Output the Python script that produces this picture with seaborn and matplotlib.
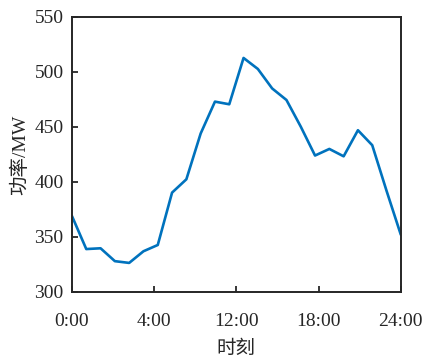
import numpy as np
import pandas as pd
import matplotlib
matplotlib.use("Agg")
import matplotlib.pyplot as plt
import seaborn as sns

# Hourly power over one day (MW)
hours = list(range(24))
power = [369, 339, 339.7, 328, 326.4, 337, 342.7, 390.3, 402.4, 444, 473, 470.6,
         512.7, 502.7, 485, 474.5, 450.3, 424, 430, 423.3, 447, 433.4, 392, 352]
tick_labels = ["0:00", "4:00", "12:00", "18:00", "24:00"]
y_ticks = [300, 350, 400, 450, 500, 550]

sns.set_theme(style="white")
plt.rcParams["font.family"] = ["Liberation Serif", "Noto Sans CJK SC"]

df = pd.DataFrame({"hour": hours, "power": power})

fig = plt.figure(figsize=(4.31, 3.6), dpi=100)
ax = fig.add_axes([0.167, 0.189, 0.763, 0.764])
sns.lineplot(data=df, x="hour", y="power", ax=ax, color="#0072BD", linewidth=1.9)

ax.set_xlim(0, 23)
ax.set_ylim(300, 550)
ax.set_xticks(np.linspace(0, 23, len(tick_labels)))
ax.set_xticklabels(tick_labels)
ax.set_yticks(y_ticks)

for s in ax.spines.values():
    s.set_visible(True)
    s.set_color("#262626")
    s.set_linewidth(1.4)

ax.tick_params(axis="both", direction="in", length=4, width=1.3, colors="#262626",
               labelsize=14, labelcolor="#262626", bottom=True, left=True,
               top=False, right=False)
ax.tick_params(axis="y", pad=6)
ax.tick_params(axis="x", pad=15)
ax.set_xlabel("时刻", fontsize=14, color="#262626", labelpad=8)
ax.set_ylabel("功率/MW", fontsize=14, color="#262626", labelpad=4)

fig.savefig("out.png", dpi=100)
